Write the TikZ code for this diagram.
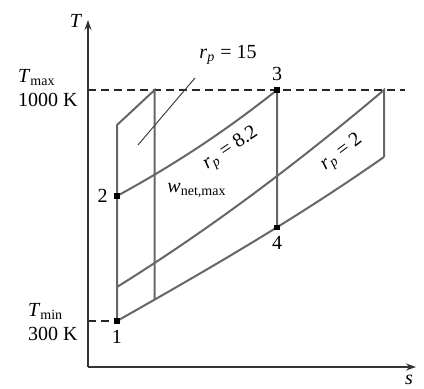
\documentclass[tikz,border=0pt]{standalone}
\usepackage{fontspec}
\setmainfont{Liberation Serif}
\usetikzlibrary{arrows.meta, positioning, calc}
\newcommand{\rpar}{\textit{r}\textsubscript{\textit{p}}}

\begin{document}
\begin{tikzpicture}[
      x=0.5pt, y=-0.5pt,
      font=\fontsize{10}{12}\selectfont,
      axis/.style={draw=black!80, line width=0.7pt, -{Stealth[length=5pt, width=3.5pt]}},
      isoline/.style={draw=black!60, line width=1pt},
      guide/.style={draw=black!85, line width=0.6pt, dash pattern=on 4pt off 2.5pt},
      statept/.style={rectangle, fill=black, minimum size=2.6pt, inner sep=0pt},
      lbl/.style={inner sep=1pt}
    ]
      \useasboundingbox (0,0) rectangle (424,389);
      \coordinate (o) at (88,367);
      \coordinate (taxis) at (88,20);
      \coordinate (saxis) at (416,367);
      \coordinate (tmax) at (88,90);
      \coordinate (tmaxend) at (405,90);
      \coordinate (tmin) at (88,321);
      \coordinate (p1) at (117,321);
      \coordinate (p2) at (117,196);
      \coordinate (a) at (117,125);
      \coordinate (d) at (117,287);
      \coordinate (f) at (384,157);

      % low-pressure isobar
      \draw[isoline] (p1) .. controls (207,270) and (294,220) .. (f)
        coordinate[pos=0.14] (c) coordinate[pos=0.6] (p4);
      \coordinate (b) at (c |- tmax);
      \coordinate (p3) at (p4 |- tmax);
      \coordinate (e) at (f |- tmax);

      \draw[guide] (tmax) -- (tmaxend);
      \draw[guide] (tmin) -- (p1);

      % cycles
      \draw[isoline] (p1) -- (a) -- (b) -- (c);
      \draw[isoline] (p2) .. controls (172,166) and (223,133) .. (p3) -- (p4);
      \draw[isoline] (d) .. controls (207,231) and (294,166) .. (e) -- (f);

      \draw[axis] (o) -- (taxis);
      \draw[axis] (o) -- (saxis);
      \node[lbl] (tlbl) at (76,21) {\textit{T}};
      \node[lbl] (slbl) at (409,380) {\textit{s}};

      \node[statept] (m1) at (p1) {};
      \node[statept] (m2) at (p2) {};
      \node[statept] (m3) at (p3) {};
      \node[statept] (m4) at (p4) {};
      \node[lbl, below=2pt of m1] (n1) {1};
      \node[lbl, left=2pt of m2] (n2) {2};
      \node[lbl, above=2pt of m3] (n3) {3};
      \node[lbl, below=2pt of m4] (n4) {4};

      \node[lbl, align=left, anchor=east] (tmaxlbl) at (80,88) {\textit{T}\textsubscript{max}\\1000 K};
      \node[lbl, align=left, anchor=east] (tminlbl) at (80,322) {\textit{T}\textsubscript{min}\\300 K};

      \coordinate (lead1) at (138,145);
      \coordinate (lead2) at (195,78);
      \draw[black!75, line width=0.5pt] (lead1) -- (lead2);
      \node[lbl] (r15) at (228,55) {\rpar{} = 15};
      \node[lbl, rotate=34] (r82) at (231,149) {\rpar{} = 8.2};
      \node[lbl, rotate=37] (r2) at (342,153) {\rpar{} = 2};
      \node[lbl] (wnet) at (197,190) {\textit{w}\textsubscript{net,max}};
    \end{tikzpicture}
\end{document}
